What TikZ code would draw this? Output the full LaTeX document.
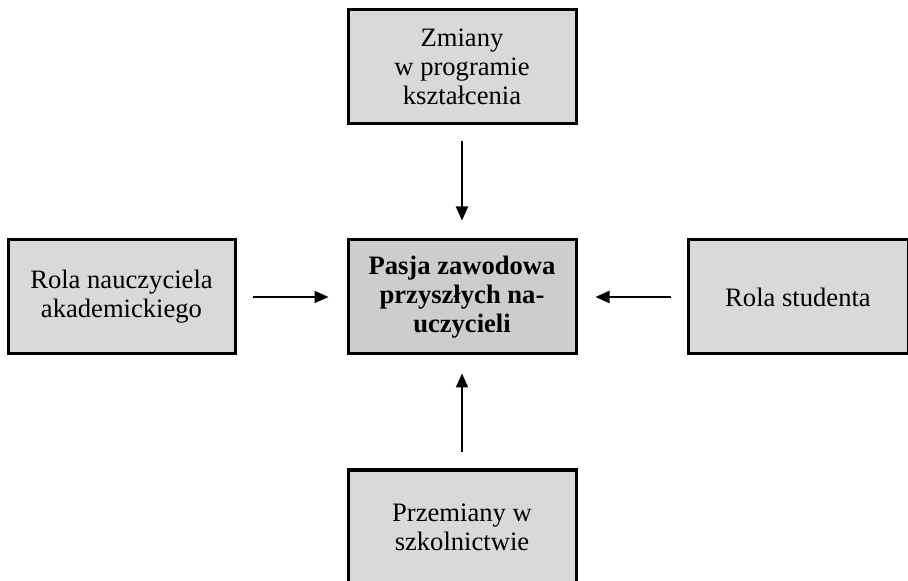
\documentclass[tikz,border=0pt]{standalone}
\usepackage{fontspec}
\setmainfont{Liberation Serif}
\usetikzlibrary{arrows.meta}
\definecolor{boxgray}{HTML}{D9D9D9}
\definecolor{coregray}{HTML}{CDCDCD}

\begin{document}
\begin{tikzpicture}[x=.5pt, y=-.5pt,
    box/.style={draw, line width=1.5pt, fill=boxgray, align=center,
      minimum width=114pt, minimum height=57pt, inner sep=0pt,
      font=\fontsize{13.3}{14.6}\selectfont},
    core/.style={box, fill=coregray, font=\fontsize{13.3}{14.6}\selectfont\bfseries},
    link/.style={line width=1pt, -{Triangle[length=7pt, width=6pt]},
      shorten <=8pt, shorten >=9pt}]%
  \useasboundingbox (0, 0) rectangle (908, 581);
  \node[core] (pasja) at (462, 297) {Pasja zawodowa\\przyszłych na-\\uczycieli};
  \node[box] (program) at (462, 67) {Zmiany\\w programie\\kształcenia};
  \node[box, minimum width=113.5pt] (nauczyciel) at (121.5, 297) {Rola nauczyciela\\akademickiego};
  \node[box, minimum width=110pt] (student) at (798, 297) {Rola studenta};
  \node[box] (szkola) at (462, 527) {Przemiany w\\szkolnictwie};
  \foreach \src in {program, nauczyciel, student, szkola} {
    \draw[link] (\src) -- (pasja);
  }
\end{tikzpicture}
\end{document}
